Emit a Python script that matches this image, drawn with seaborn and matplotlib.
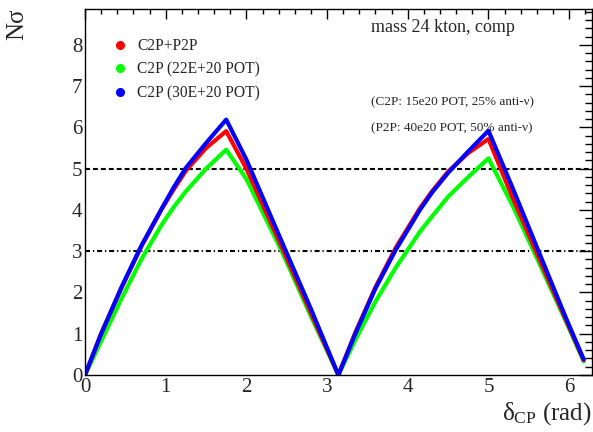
"""Discovery sensitivity to CP violation vs delta_CP (ROOT-style figure)."""

import matplotlib
matplotlib.use("Agg")
import matplotlib.pyplot as plt
from matplotlib.lines import Line2D
from matplotlib.ticker import MultipleLocator
import numpy as np
import pandas as pd
import seaborn as sns

# delta_CP sample points (rad)
delta = [0.0, 0.2, 0.45, 0.7, 0.95, 1.1, 1.25, 1.5, 1.75, 2.0, 2.45, 2.8, 3.14,
         3.35, 3.6, 3.85, 4.15, 4.3, 4.5, 4.75, 5.0, 5.3, 5.65, 5.95, 6.18]

# N sigma for each configuration
nsig_c2p_p2p = [0.0, 1.0, 2.1, 3.12, 4.02, 4.5, 4.95, 5.5, 5.91, 5.0, 3.05, 1.5, 0.0,
                1.03, 2.13, 3.08, 4.04, 4.45, 4.93, 5.38, 5.72, 4.29, 2.72, 1.38, 0.36]
nsig_c2p_22 = [0.0, 0.82, 1.84, 2.81, 3.64, 4.07, 4.45, 5.0, 5.46, 4.75, 2.95, 1.42, 0.0,
               0.85, 1.78, 2.6, 3.47, 3.84, 4.32, 4.8, 5.25, 4.1, 2.62, 1.34, 0.33]
nsig_c2p_30 = [0.0, 1.0, 2.12, 3.14, 4.03, 4.55, 5.02, 5.62, 6.19, 5.22, 3.18, 1.6, 0.0,
               1.0, 2.1, 3.03, 4.0, 4.42, 4.9, 5.42, 5.92, 4.53, 2.86, 1.43, 0.38]

labels = ["C2P+P2P", "C2P (22E+20 POT)", "C2P (30E+20 POT)"]
colors = {"C2P+P2P": "#ff0000", "C2P (22E+20 POT)": "#00ff00",
          "C2P (30E+20 POT)": "#0000ff"}
draw_order = ["C2P (22E+20 POT)", "C2P+P2P", "C2P (30E+20 POT)"]

sigma_levels = [5, 3]
sigma_styles = [(0, (2.4, 1.4)), (0, (2.4, 1.4, 0.6, 1.4))]

df = pd.concat([
    pd.DataFrame({"delta": delta, "nsigma": vals, "config": lab})
    for lab, vals in zip(labels, [nsig_c2p_p2p, nsig_c2p_22, nsig_c2p_30])
])

sns.set_style("white")
plt.rcParams["font.family"] = ["Liberation Serif", "DejaVu Serif"]
plt.rcParams["mathtext.fontset"] = "custom"
plt.rcParams["mathtext.rm"] = "Liberation Serif"
plt.rcParams["mathtext.it"] = "Liberation Serif:italic"
plt.rcParams["lines.solid_joinstyle"] = "round"

fig = plt.figure(figsize=(5.93, 4.32), dpi=100)
W, H = 593, 432
ax = fig.add_axes([85 / W, 1 - 375 / H, (592 - 85) / W, (375 - 9) / H])

sns.lineplot(data=df, x="delta", y="nsigma", hue="config", hue_order=draw_order,
             palette=colors, sort=False, estimator=None, linewidth=3,
             legend=False, ax=ax)

for lvl, ls in zip(sigma_levels, sigma_styles):
    ax.axhline(lvl, color="black", linewidth=1.5, linestyle=ls, zorder=1)

ax.set_xlim(0, 2 * np.pi)
ax.set_ylim(0, 8.87)
ax.xaxis.set_major_locator(MultipleLocator(1))
ax.xaxis.set_minor_locator(MultipleLocator(0.2))
ax.yaxis.set_major_locator(MultipleLocator(1))
ax.yaxis.set_minor_locator(MultipleLocator(0.2))
ax.tick_params(axis="both", which="both", direction="in", top=True, right=True,
               labelsize=15, color="black", width=1)
ax.tick_params(axis="x", which="major", length=7, pad=2)
ax.tick_params(axis="x", which="minor", length=3.6)
ax.tick_params(axis="y", which="major", length=9.4, pad=2)
ax.tick_params(axis="y", which="minor", length=4.7)
for sp in ax.spines.values():
    sp.set_color("black")
    sp.set_linewidth(1)

ax.set_xlabel("δ$_{\\rm CP}$ (rad)", fontsize=18, ha="right")
ax.xaxis.set_label_coords(1.0, -0.068)
ax.set_ylabel("Nσ", fontsize=18, loc="top")
ax.yaxis.set_label_coords(-0.112, 1.0)

handles = [Line2D([], [], linestyle="none", marker="o", markersize=5.5,
                  color=colors[lab]) for lab in labels]
ax.legend(handles, labels, loc="upper left", frameon=False, fontsize=11.2,
          bbox_to_anchor=(112 / W, 1 - 38 / H), bbox_transform=fig.transFigure,
          borderpad=0, borderaxespad=0, handlelength=1.0, handletextpad=0.6,
          labelspacing=0.5)

fig.text(371 / W, 1 - 28 / H, "mass 24 kton, comp", fontsize=13, va="center")
fig.text(371 / W, 1 - 102 / H, "(C2P: 15e20 POT, 25% anti-ν)", fontsize=9.5, va="center")
fig.text(371 / W, 1 - 128 / H, "(P2P: 40e20 POT, 50% anti-ν)", fontsize=9.5, va="center")

fig.savefig("out.png", dpi=100)
